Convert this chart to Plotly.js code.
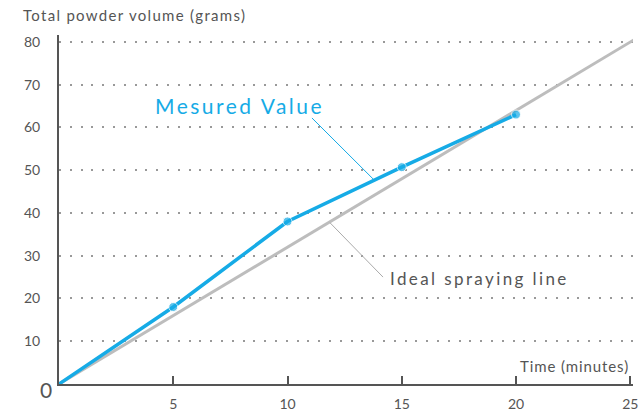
<!DOCTYPE html>
<html><head><meta charset="utf-8">
<script src="https://cdn.plot.ly/plotly-3.0.1.min.js"></script>
<style>html,body{margin:0;padding:0;background:#fff}#chart{width:639px;height:416px}</style>
</head><body><div id="chart"></div>
<script>
const timeMeasured = [0, 5, 10, 15, 20];
const powderMeasured = [0, 18, 38, 50.7, 63];
const timeIdeal = [0, 25.2];
const powderIdeal = [0, 80.6];
const xTicks = [5, 10, 15, 20, 25];
const yTicks = [10, 20, 30, 40, 50, 60, 70, 80];

const BLUE = '#16abe6', GRAY = '#bdbdbd', TXT = '#555';
const FONT = 'Lato, "Open Sans", sans-serif';
function spaced(t, px) { return '<span style="letter-spacing:' + px + 'px">' + t + '</span>'; }

const traces = [
  {x: timeIdeal, y: powderIdeal, mode: 'lines', line: {color: GRAY, width: 3}, hoverinfo: 'skip', cliponaxis: false},
  {x: timeMeasured, y: powderMeasured, mode: 'lines+markers', line: {color: BLUE, width: 3.5},
   marker: {color: BLUE, size: [0, 9, 9, 9, 9]}, cliponaxis: false}
];

const layout = {
  width: 639, height: 416,
  margin: {l: 59, r: 6, t: 35, b: 32},
  showlegend: false,
  paper_bgcolor: '#fff', plot_bgcolor: '#fff',
  font: {family: FONT, color: TXT, size: 14},
  xaxis: {range: [0, 25.12], tickvals: xTicks, ticks: 'inside', ticklen: 8, tickwidth: 2, tickcolor: '#555',
          showline: true, linecolor: '#555', linewidth: 2, showgrid: false, zeroline: false,
          tickfont: {size: 14, color: TXT}, ticklabelstandoff: 6},
  yaxis: {range: [0, 81.6], tickvals: yTicks, ticks: '', showline: true, linecolor: '#555', linewidth: 2,
          showgrid: true, gridcolor: '#999', gridwidth: 2, griddash: '2px,8.8px', zeroline: false,
          tickfont: {size: 14, color: TXT}, ticklabelstandoff: 14},
  shapes: [
    {type: 'line', x0: 11.07, y0: 62.2, x1: 13.79, y1: 47.7, line: {color: BLUE, width: 1}},
    {type: 'line', x0: 11.86, y0: 37.7, x1: 14.18, y1: 25.0, line: {color: '#aaa', width: 1}}
  ],
  annotations: [
    {text: spaced('Mesured Value', 2.5), x: 7.92, y: 65.1, xanchor: 'center', yanchor: 'middle', showarrow: false,
     font: {size: 21, color: BLUE}},
    {text: spaced('Ideal spraying line', 2.4), x: 18.40, y: 24.6, xanchor: 'center', yanchor: 'middle', showarrow: false,
     font: {size: 17, color: TXT}},
    {text: spaced('Time (minutes)', 0.9), x: 22.56, y: 4.2, xanchor: 'center', yanchor: 'middle', showarrow: false,
     font: {size: 15, color: TXT}},
    {text: '0', xref: 'paper', yref: 'paper', x: -0.0226, y: -0.017, xanchor: 'center', yanchor: 'middle',
     showarrow: false, font: {size: 21, color: TXT}},
    {text: spaced('Total powder volume (grams)', 1.3), xref: 'paper', yref: 'paper', x: 0.1315, y: 1.057,
     xanchor: 'center', yanchor: 'middle', showarrow: false, font: {size: 15, color: TXT}}
  ]
};

Plotly.newPlot('chart', traces, layout, {displayModeBar: false, staticPlot: true});
</script>
</body></html>
